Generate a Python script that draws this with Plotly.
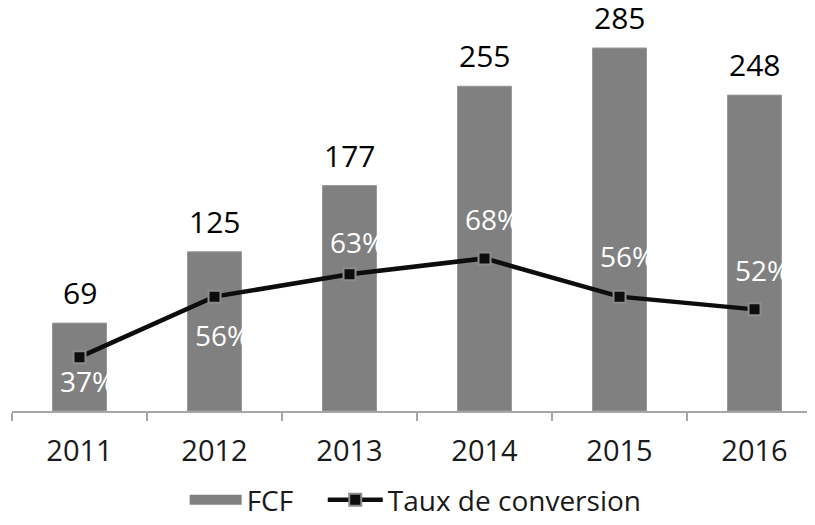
import plotly.graph_objects as go

years = ["2011", "2012", "2013", "2014", "2015", "2016"]
fcf = [69, 125, 177, 255, 285, 248]
conversion = [37, 56, 63, 68, 56, 52]  # percent
# label offsets (px) for conversion labels (positive = above the point)
conv_label_shift = [-24, -38, 32, 39, 41, 39]

FONT = "Open Sans"
BAR_COLOR = "#808080"
fig = go.Figure()
fig.add_trace(go.Bar(
    x=years, y=fcf, name="FCF", width=0.4, showlegend=False,
    marker=dict(color=BAR_COLOR, line=dict(color="#9a9a9a", width=1)),
))
# legend-only entry shaped like the wide grey swatch of the original
fig.add_trace(go.Scatter(
    x=[None], y=[None], name="FCF", mode="lines", legend="legend",
    line=dict(color=BAR_COLOR, width=19),
))
fig.add_trace(go.Scatter(
    x=years, y=conversion, name="Taux de conversion", yaxis="y2",
    mode="lines+markers", legend="legend2",
    line=dict(color="#0d0d0d", width=4.5),
    marker=dict(symbol="square", size=12, color="#0d0d0d",
                line=dict(color="#8c8c8c", width=2)),
))

annotations = []
for i, v in enumerate(fcf):
    annotations.append(dict(x=i, y=v, xref="x", yref="y", text=str(v),
                            showarrow=False, yanchor="bottom", yshift=8,
                            font=dict(family=FONT, size=30, color="#000000")))
for i, (v, s) in enumerate(zip(conversion, conv_label_shift)):
    annotations.append(dict(x=i, y=v, xref="x", yref="y2", text=f"{v}%",
                            showarrow=False, yanchor="middle", yshift=s, xshift=8,
                            font=dict(family=FONT, size=28, color="#ffffff")))

fig.update_layout(
    width=807, height=517,
    margin=dict(l=4, r=0, t=0, b=105),
    paper_bgcolor="white", plot_bgcolor="white",
    font=dict(family=FONT, size=28, color="#1a1a1a"),
    xaxis=dict(type="category", range=[-0.5, 5.448], showgrid=False, showline=True,
               linecolor="#a6a6a6", linewidth=1.5, ticks="outside",
               tickson="boundaries", ticklen=8, tickcolor="#a6a6a6",
               tickwidth=1.5, tickfont=dict(size=29, color="#1a1a1a"),
               ticklabelstandoff=13, automargin=False),
    yaxis=dict(range=[0, 316.4], visible=False, showgrid=False),
    yaxis2=dict(range=[20.1, 146.6], overlaying="y", side="right",
                visible=False, showgrid=False),
    showlegend=True,
    legend=dict(orientation="h", x=0.215, xanchor="left", y=-0.221,
                yanchor="middle", font=dict(size=28, color="#1a1a1a"),
                itemwidth=52),
    legend2=dict(orientation="h", x=0.387, xanchor="left", y=-0.221,
                 yanchor="middle", font=dict(size=28, color="#1a1a1a"),
                 itemwidth=55),
    annotations=annotations,
)
fig.write_html("out.html")
